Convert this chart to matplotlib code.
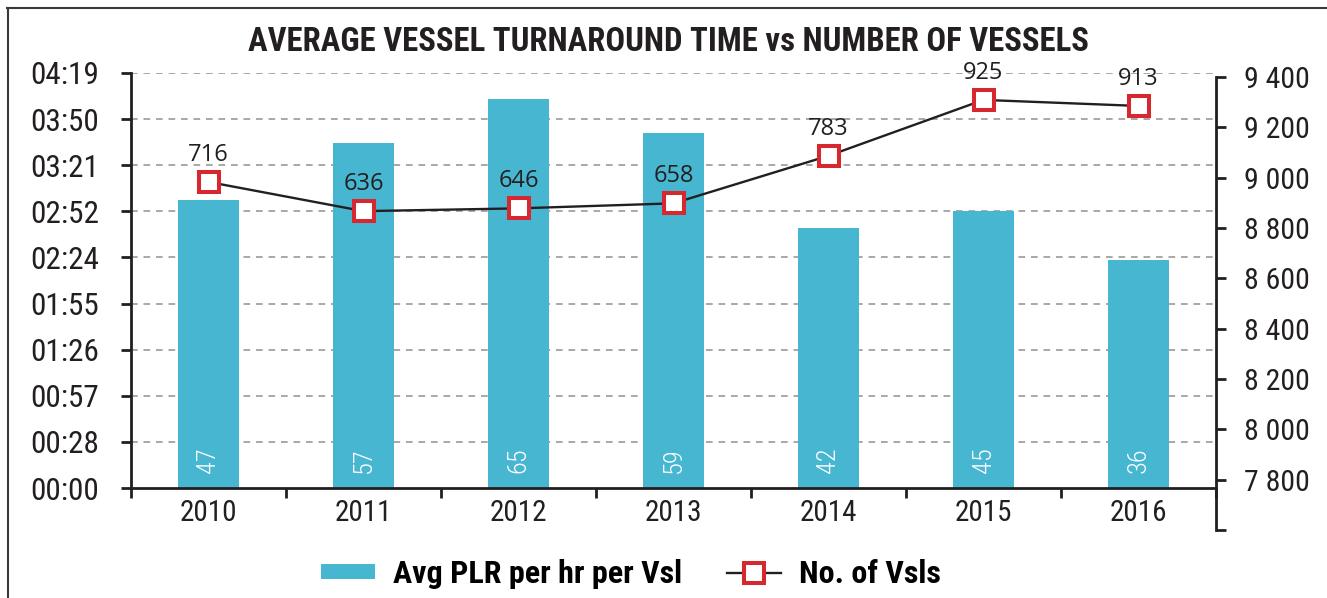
import matplotlib
matplotlib.use("Agg")
import matplotlib.pyplot as plt
from matplotlib.lines import Line2D
from matplotlib.patches import Patch
import numpy as np

COND = ["Roboto Condensed", "Archivo Narrow", "Barlow Semi Condensed", "DejaVu Sans"]
plt.rcParams["font.family"] = COND

# data
years = ["2010", "2011", "2012", "2013", "2014", "2015", "2016"]
turnaround_min = [179.9, 215.3, 243.0, 221.5, 162.2, 173.0, 142.4]   # bar height, minutes
plr_labels = ["47", "57", "65", "59", "42", "45", "36"]
vessels = [8983, 8867, 8878, 8898, 9087, 9309, 9285]                 # line, right axis
vessel_labels = ["716", "636", "646", "658", "783", "925", "913"]

time_ticks = [0, 28.8, 57.6, 86.4, 115.2, 144.0, 172.8, 201.6, 230.4, 259.2]
time_labels = ["00:00", "00:28", "00:57", "01:26", "01:55", "02:24",
               "02:52", "03:21", "03:50", "04:19"]
count_ticks = [7600, 7800, 8000, 8200, 8400, 8600, 8800, 9000, 9200, 9400]
count_labels = ["", "7 800", "8 000", "8 200", "8 400", "8 600",
                "8 800", "9 000", "9 200", "9 400"]

BAR = "#47b6d1"
RED = "#d7282f"
INK = "#231f20"

W, H = 1327, 598
fig = plt.figure(figsize=(W / 100, H / 100), dpi=100)


def px_box(x0, y0, x1, y1):
    # pixel box (top-left origin) -> figure fraction rect
    return [x0 / W, 1 - y1 / H, (x1 - x0) / W, (y1 - y0) / H]


ax = fig.add_axes(px_box(131, 73, 1216, 488))
ax2 = fig.add_axes(px_box(131, 77, 1216, 530))
ax2.patch.set_visible(False)

x = np.arange(len(years))

# bars
ax.bar(x, turnaround_min, width=0.39, color=BAR, zorder=2)
ax.set_xlim(-0.5, len(years) - 0.5)
ax.set_ylim(0, 259.2)
ax.set_yticks(time_ticks)
ax.set_yticklabels(time_labels)
for t in time_ticks[1:]:
    ax.axhline(t, color="#9a9a9a", lw=1.2, ls=(0, (4, 3.5)), zorder=1)

for xi, lab in zip(x, plr_labels):
    ax.annotate(lab, (xi, 0), xytext=(0, 10.5), textcoords="offset points",
                rotation=90, ha="center", va="bottom", color="white",
                fontsize=19, fontweight="light", zorder=3)

ax.set_xticks(x)
ax.set_xticklabels(years)
ax.set_xticks(np.arange(-0.5, len(years)), minor=True)
ax.tick_params(axis="x", which="major", length=0, pad=8, labelsize=21, colors=INK)
ax.tick_params(axis="x", which="minor", length=7.2, width=2, direction="out", color=INK)
ax.tick_params(axis="y", length=7.2, width=2, direction="out", pad=15.5, labelsize=22.5,
               colors=INK)
for s in ("top", "right"):
    ax.spines[s].set_visible(False)
for s in ("left", "bottom"):
    ax.spines[s].set_linewidth(2)
    ax.spines[s].set_color(INK)
    ax.spines[s].set_zorder(4)

# line on its own (taller) right axis
ax2.set_xlim(-0.5, len(years) - 0.5)
ax2.set_ylim(7600, 9400)
ax2.plot(x, vessels, color=INK, lw=1.7, marker="s", ms=15, mew=2.9,
         mfc="white", mec=RED, zorder=5, clip_on=False)
for xi, v, lab in zip(x, vessels, vessel_labels):
    ax2.annotate(lab, (xi, v), xytext=(0, 19.5), textcoords="offset points",
                 ha="center", va="center", fontsize=17, color=INK,
                 family=["Open Sans", "Noto Sans", "DejaVu Sans"])
ax2.yaxis.tick_right()
ax2.set_yticks(count_ticks)
ax2.set_yticklabels(count_labels)
ax2.set_xticks([])
ax2.tick_params(axis="y", length=7.2, width=2, direction="out", pad=13,
                labelsize=21.5, colors=INK)
for s in ("top", "left", "bottom"):
    ax2.spines[s].set_visible(False)
ax2.spines["right"].set_linewidth(2)
ax2.spines["right"].set_color(INK)

fig.text(668 / W, 1 - 42 / H, "AVERAGE VESSEL TURNAROUND TIME vs NUMBER OF VESSELS",
         ha="center", va="center", fontsize=23.6, fontweight="bold", color=INK)

handles = [
    Patch(facecolor=BAR, edgecolor="none"),
    Line2D([], [], color=INK, lw=1.7, marker="s", ms=15, mew=2.9,
           mfc="white", mec=RED),
]
fig.legend(handles, ["Avg PLR per hr per Vsl", "No. of Vsls"],
           loc="center", bbox_to_anchor=(631 / W, 1 - 574 / H), ncol=2,
           frameon=False, handlelength=1.7, handleheight=0.35,
           handletextpad=0.56, columnspacing=1.4,
           prop={"size": 23, "weight": "bold"})

# outer frame (left and top edges only)
fig.add_artist(Line2D([7.5 / W, 7.5 / W], [0, 1 - 8 / H], transform=fig.transFigure,
                      color="#3a3a3a", lw=1.5))
fig.add_artist(Line2D([7 / W, 1], [1 - 8 / H, 1 - 8 / H], transform=fig.transFigure,
                      color="#3a3a3a", lw=1.5))

fig.savefig("out.png", dpi=100)
